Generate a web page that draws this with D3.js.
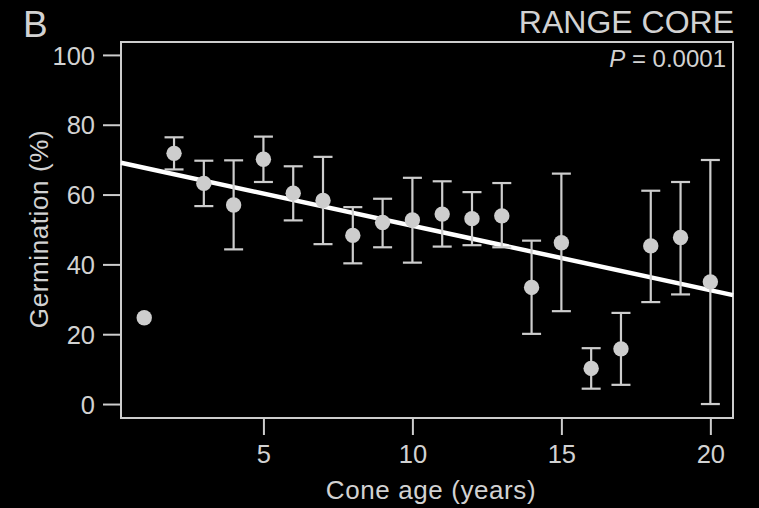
<!DOCTYPE html>
<html>
<head>
<meta charset="utf-8">
<title>Range core germination</title>
<script src="https://d3js.org/d3.v7.min.js"></script>
<style>
  body { margin: 0; background: #000; }
  text { font-family: "Liberation Sans", Arial, sans-serif; fill: #d2d2d2; }
</style>
</head>
<body>
<script>
// data
var ages    = [1, 2, 3, 4, 5, 6, 7, 8, 9, 10, 11, 12, 13, 14, 15, 16, 17, 18, 19, 20];
var germ    = [24.7, 71.8, 63.2, 57.0, 70.1, 60.4, 58.3, 48.3, 52.0, 52.7, 54.4, 53.1, 53.9, 33.4, 46.2, 10.2, 15.8, 45.3, 47.7, 35.0];
var errHigh = [null, 76.4, 69.7, 69.8, 76.6, 68.1, 70.8, 56.4, 58.8, 64.8, 63.8, 60.7, 63.3, 46.8, 66.0, 16.0, 26.1, 61.1, 63.6, 69.9];
var errLow  = [null, 67.2, 56.7, 44.3, 63.6, 52.6, 45.8, 40.3, 44.9, 40.5, 45.1, 45.5, 44.9, 20.1, 26.6, 4.4, 5.5, 29.2, 31.4, 0.0];
var fitX = [0.22, 20.76];
var fitY = [69.1, 31.2];
var xTicks = [5, 10, 15, 20];
var yTicks = [0, 20, 40, 60, 80, 100];

var W = 759, H = 508;
var boxL = 121, boxR = 733, boxT = 42, boxB = 418;
var grey = "#cdcdcd";

var svg = d3.select("body").append("svg")
  .attr("width", W)
  .attr("height", H);

svg.append("rect").attr("width", W).attr("height", H).attr("fill", "#000");

var x = d3.scaleLinear().domain([0.22, 20.76]).range([boxL, boxR]);
var y = d3.scaleLinear().domain([-4.0, 103.7]).range([boxB, boxT]);

// axes (ticks only outside box)
var xAxis = svg.append("g")
  .attr("transform", "translate(0," + boxB + ")")
  .call(d3.axisBottom(x).tickValues(xTicks).tickSize(17).tickPadding(10).tickSizeOuter(0));
var yAxis = svg.append("g")
  .attr("transform", "translate(" + boxL + ",0)")
  .call(d3.axisLeft(y).tickValues(yTicks).tickSize(18).tickPadding(8).tickSizeOuter(0));

[xAxis, yAxis].forEach(function(g) {
  g.select(".domain").remove();
  g.selectAll(".tick line").attr("stroke", grey).attr("stroke-width", 2);
  g.selectAll(".tick text")
    .attr("fill", grey)
    .style("font-size", "25.5px")
    .style("font-family", "'Liberation Sans', Arial, sans-serif");
});
yAxis.selectAll(".tick text").attr("dy", "0.36em");
xAxis.selectAll(".tick text").attr("dy", "0.72em");

// box
svg.append("rect")
  .attr("x", boxL).attr("y", boxT)
  .attr("width", boxR - boxL).attr("height", boxB - boxT)
  .attr("fill", "none")
  .attr("stroke", grey)
  .attr("stroke-width", 2);

// regression line
var line = d3.line().x(function(d) { return x(d[0]); }).y(function(d) { return y(d[1]); });
svg.append("path")
  .datum(d3.zip(fitX, fitY))
  .attr("d", line)
  .attr("stroke", "#ffffff")
  .attr("stroke-width", 4.5)
  .attr("fill", "none");

// error bars
var idx = d3.range(ages.length).filter(function(i) { return errHigh[i] !== null; });
var eb = svg.append("g").attr("stroke", grey).attr("stroke-width", 2.2);
eb.selectAll("line.v").data(idx).enter().append("line")
  .attr("x1", function(i) { return x(ages[i]); })
  .attr("x2", function(i) { return x(ages[i]); })
  .attr("y1", function(i) { return y(errLow[i]); })
  .attr("y2", function(i) { return y(errHigh[i]); });
eb.selectAll("line.t").data(idx).enter().append("line")
  .attr("x1", function(i) { return x(ages[i]) - 9.5; })
  .attr("x2", function(i) { return x(ages[i]) + 9.5; })
  .attr("y1", function(i) { return y(errHigh[i]); })
  .attr("y2", function(i) { return y(errHigh[i]); });
eb.selectAll("line.b").data(idx).enter().append("line")
  .attr("x1", function(i) { return x(ages[i]) - 9.5; })
  .attr("x2", function(i) { return x(ages[i]) + 9.5; })
  .attr("y1", function(i) { return y(errLow[i]); })
  .attr("y2", function(i) { return y(errLow[i]); });

// points
svg.selectAll("circle").data(ages).enter().append("circle")
  .attr("cx", function(d) { return x(d); })
  .attr("cy", function(d, i) { return y(germ[i]); })
  .attr("r", 7.7)
  .attr("fill", grey);

// labels
svg.append("text").attr("x", 23).attr("y", 37)
  .style("font-size", "37px").text("B");
svg.append("text").attr("x", 734).attr("y", 33).attr("text-anchor", "end")
  .style("font-size", "32px").text("RANGE CORE");
var p = svg.append("text").attr("x", 726).attr("y", 67).attr("text-anchor", "end")
  .style("font-size", "24px");
p.append("tspan").style("font-style", "italic").text("P");
p.append("tspan").text(" = 0.0001");

svg.append("text").attr("x", 431).attr("y", 499).attr("text-anchor", "middle")
  .style("font-size", "26px").style("letter-spacing", "0.6px").text("Cone age (years)");
svg.append("text")
  .attr("transform", "translate(48,229) rotate(-90)")
  .attr("text-anchor", "middle")
  .style("font-size", "26px").style("letter-spacing", "0.6px").text("Germination (%)");
</script>
</body>
</html>
